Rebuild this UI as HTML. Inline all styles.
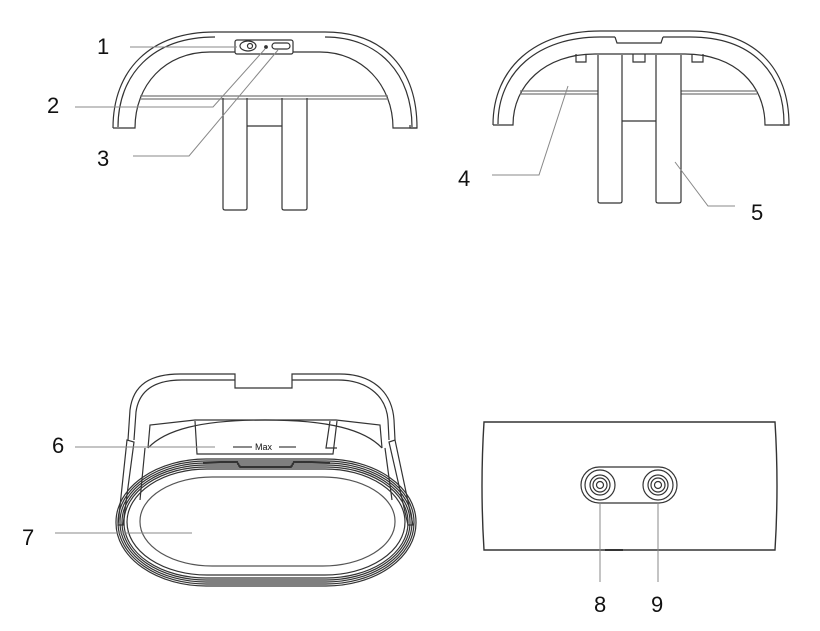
<!DOCTYPE html>
<html><head><meta charset="utf-8"><style>
html,body{margin:0;padding:0;background:#fff;width:820px;height:631px;overflow:hidden}
svg{display:block}
text{font-family:"Liberation Sans",sans-serif;font-size:22px;fill:#111}
</style></head><body>
<svg width="820" height="631" viewBox="0 0 820 631" xmlns="http://www.w3.org/2000/svg">
<g fill="none" stroke="#333" stroke-width="1.2">
<!-- Top-left device -->
<path d="M113,128 C113,70 150,32 215,32 L325,32 C385,32 417,70 417,128 L410,128 L410,125"/>
<path d="M118,127 C118,75 152,37 215,37 M325,37 C380,37 412,75 412,127"/>
<path d="M113,128 L135,128 C135,85 165,52 210,52 L235,52 M293,52 L320,52 C362,52 393,85 393,128 L417,128"/>
<rect x="235" y="40" width="58" height="14" rx="2"/>
<ellipse cx="248" cy="46" rx="8" ry="5"/>
<circle cx="250" cy="46" r="2.5"/>
<circle cx="266" cy="47" r="1.3" fill="#333"/>
<rect x="272" y="43" width="18" height="6" rx="3"/>
<path d="M140,96 L388,96 M140,99 L388,99" stroke="#777"/>
<path d="M223,98 L223,208 Q223,210 225,210 L245,210 Q247,210 247,208 L247,98"/>
<path d="M282,98 L282,208 Q282,210 284,210 L305,210 Q307,210 307,208 L307,98"/>
<path d="M247,126 L282,126"/>
<!-- Top-right device -->
<path d="M493,125 C493,68 535,31 600,31 L690,31 C755,31 789,68 789,125 L780,125"/>
<path d="M498,124 C498,72 538,37 600,37 L615,37 M663,37 L690,37 C752,37 784,72 784,124"/>
<path d="M615,37 L617,43 L661,43 L663,37"/>
<path d="M493,125 L513,125 C513,85 545,54 595,54 L685,54 C735,54 765,85 765,125 L789,125"/>
<path d="M576,54 L576,62 L586,62 L586,54 M633,54 L633,62 L645,62 L645,54 M692,54 L692,62 L703,62 L703,54"/>
<path d="M520,91 L598,91 M520,94 L598,94 M681,91 L757,91 M681,94 L757,94" stroke="#777"/>
<path d="M598,55 L598,201 Q598,203 600,203 L620,203 Q622,203 622,201 L622,55"/>
<path d="M656,55 L656,201 Q656,203 658,203 L679,203 Q681,203 681,201 L681,55"/>
<path d="M622,121 L656,121"/>
<!-- Bottom-left device -->
<path d="M128,440 L130,410 C133,385 150,374 180,374 L235,374 L235,388 L292,388 L292,374 L340,374 C370,374 392,390 394,420 L395,440"/>
<path d="M134,440 L136,412 C139,390 155,380 182,380 L235,380 M292,380 L338,380 C365,380 386,394 388,420 L389,440"/>
<path d="M148,448 L150,425 L195,420 L336,420 L380,425 L382,448"/>
<path d="M148,448 C165,430 200,420 265,420 C330,420 365,430 382,448"/>
<path d="M195,421 L197,454 L333,454 L337,421 M330,421 L326,448 L337,448"/>
<path d="M233,447 L252,447 M279,447 L296,447" stroke="#444"/>
<path d="M127,440 L118,525 L123,525 L134,442 Z"/>
<path d="M395,440 L413,525 L408,525 L389,442 Z"/>
<path d="M145,448 L140,500 M385,448 L392,500"/>
<rect x="116" y="459" width="300" height="127" rx="90" ry="63"/>
<rect x="118" y="461" width="296" height="123" rx="88" ry="61"/>
<rect x="120" y="463" width="292" height="119" rx="86" ry="59"/>
<rect x="122" y="465" width="288" height="115" rx="84" ry="57"/>
<rect x="124" y="467" width="284" height="111" rx="82" ry="55"/>
<rect x="127" y="469" width="278" height="106" rx="80" ry="53"/>
<rect x="140" y="477" width="255" height="89" rx="72" ry="44" stroke="#555"/>
<path d="M203,463 L237,462 L240,467 L291,467 L294,462 L330,463" stroke-width="2"/>
<!-- Bottom-right device -->
<path d="M484,422 L775,422 Q779,486 775,550 L484,550 Q480,486 484,422 Z" stroke-width="1.4"/>
<path d="M605,550 L623,550" stroke-width="2"/>
<rect x="581" y="467" width="96" height="36" rx="18"/>
<circle cx="600" cy="485" r="15"/><circle cx="600" cy="485" r="10"/><circle cx="600" cy="485" r="7"/><circle cx="600" cy="485" r="3.5"/>
<circle cx="658" cy="485" r="15"/><circle cx="658" cy="485" r="10"/><circle cx="658" cy="485" r="7"/><circle cx="658" cy="485" r="3.5"/>
</g>
<text x="255" y="450" style="font-size:9px" fill="#333">Max</text>
<!-- leader lines -->
<g fill="none" stroke="#888" stroke-width="1">
<path d="M130,47 L237,47"/>
<path d="M75,107 L213,107 L265,49"/>
<path d="M133,156 L189,156 L278,50"/>
<path d="M492,175 L539,175 L568,86"/>
<path d="M735,206 L708,206 L675,162"/>
<path d="M75,447 L215,447"/>
<path d="M55,533 L192,533"/>
<path d="M600,502 L600,582 M658,502 L658,582"/>
</g>
<text x="97" y="54">1</text>
<text x="47" y="113">2</text>
<text x="97" y="166">3</text>
<text x="458" y="186">4</text>
<text x="751" y="220">5</text>
<text x="52" y="453">6</text>
<text x="22" y="545">7</text>
<text x="594" y="612">8</text>
<text x="651" y="612">9</text>
</svg>
</body></html>
